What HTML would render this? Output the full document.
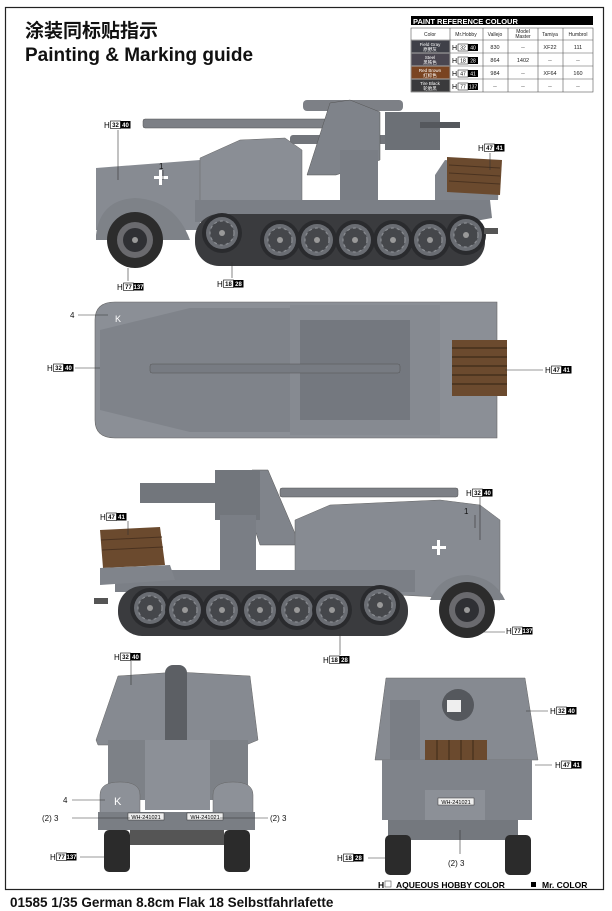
<!DOCTYPE html>
<html><head><meta charset="utf-8"><style>
html,body{margin:0;padding:0;background:#fff}
svg{display:block}
text{font-family:"Liberation Sans","Noto Sans CJK SC",sans-serif}
.t{font-size:8px}
.s{font-size:6px;font-weight:bold;text-anchor:middle}
.w{fill:#fff}
</style></head><body>
<svg width="612" height="911" viewBox="0 0 612 911" xmlns="http://www.w3.org/2000/svg">
<defs>
<g id="wh"><circle r="20" fill="#2a2b2e"/><circle r="16" fill="#6a6d73"/><circle r="12" fill="#45474b" stroke="#8a8d92" stroke-width="1.2" stroke-dasharray="3 3"/><circle r="3" fill="#999"/></g>
<g id="fw"><circle r="28" fill="#2c2c2c"/><circle r="18" fill="#6a6a6e"/><circle r="12" fill="#2f3034"/><circle r="3" fill="#999"/></g>
</defs>
<rect x="5.5" y="7.5" width="598" height="882" fill="#fff" stroke="#222" stroke-width="1.2"/>
<text x="25" y="37" font-size="19" font-weight="bold" fill="#111">涂装同标贴指示</text>
<text x="25" y="61" font-size="19" font-weight="bold" fill="#111">Painting &amp; Marking guide</text>

<!-- paint table -->
<rect x="411" y="16" width="182" height="9" fill="#000"/>
<text x="413" y="24" font-size="7.5" font-weight="bold" fill="#fff">PAINT  REFERENCE COLOUR</text>
<g stroke="#555" stroke-width="0.6" fill="none">
<rect x="411" y="28" width="182" height="64"/>
<line x1="411" y1="40" x2="593" y2="40"/><line x1="411" y1="53" x2="593" y2="53"/><line x1="411" y1="66" x2="593" y2="66"/><line x1="411" y1="79" x2="593" y2="79"/>
<line x1="450" y1="28" x2="450" y2="92"/><line x1="483" y1="28" x2="483" y2="92"/><line x1="508" y1="28" x2="508" y2="92"/><line x1="538" y1="28" x2="538" y2="92"/><line x1="563" y1="28" x2="563" y2="92"/>
</g>
<rect x="411.5" y="40.5" width="38" height="12" fill="#3f4048"/>
<rect x="411.5" y="53.5" width="38" height="12" fill="#4a4650"/>
<rect x="411.5" y="66.5" width="38" height="12" fill="#7a4421"/>
<rect x="411.5" y="79.5" width="38" height="12" fill="#3a3a3c"/>
<g font-size="4.5" fill="#fff" text-anchor="middle">
<text x="430" y="46">Field Gray</text><text x="430" y="51">原野灰</text>
<text x="430" y="59">Steel</text><text x="430" y="64">黑铁色</text>
<text x="430" y="72">Red Brown</text><text x="430" y="77">红棕色</text>
<text x="430" y="85">Tire Black</text><text x="430" y="90">轮胎黑</text>
</g>
<g font-size="5" text-anchor="middle" fill="#222">
<text x="430" y="36">Color</text><text x="466" y="36">Mr.Hobby</text><text x="495" y="36">Vallejo</text><text x="523" y="33">Model</text><text x="523" y="38">Master</text><text x="550" y="36">Tamiya</text><text x="578" y="36">Humbrol</text>
<g font-size="5.5"><text x="495" y="49">830</text><text x="523" y="49">--</text><text x="550" y="49">XF22</text><text x="578" y="49">111</text>
<text x="495" y="62">864</text><text x="523" y="62">1402</text><text x="550" y="62">--</text><text x="578" y="62">--</text>
<text x="495" y="75">984</text><text x="523" y="75">--</text><text x="550" y="75">XF64</text><text x="578" y="75">160</text>
<text x="495" y="88">--</text><text x="523" y="88">--</text><text x="550" y="88">--</text><text x="578" y="88">--</text></g>
</g>
<g font-size="7" fill="#000">
<text x="452" y="50">H</text><rect x="458" y="44" width="10" height="7" fill="#fff" stroke="#000" stroke-width=".5"/><rect x="468" y="44" width="10" height="7"/><text x="463" y="49.5" font-size="5" text-anchor="middle">32</text><text x="473" y="49.5" font-size="5" fill="#fff" text-anchor="middle">40</text>
<text x="452" y="63">H</text><rect x="458" y="57" width="10" height="7" fill="#fff" stroke="#000" stroke-width=".5"/><rect x="468" y="57" width="10" height="7"/><text x="463" y="62.5" font-size="5" text-anchor="middle">18</text><text x="473" y="62.5" font-size="5" fill="#fff" text-anchor="middle">28</text>
<text x="452" y="76">H</text><rect x="458" y="70" width="10" height="7" fill="#fff" stroke="#000" stroke-width=".5"/><rect x="468" y="70" width="10" height="7"/><text x="463" y="75.5" font-size="5" text-anchor="middle">47</text><text x="473" y="75.5" font-size="5" fill="#fff" text-anchor="middle">41</text>
<text x="452" y="89">H</text><rect x="458" y="83" width="10" height="7" fill="#fff" stroke="#000" stroke-width=".5"/><rect x="468" y="83" width="10" height="7"/><text x="463" y="88.5" font-size="5" text-anchor="middle">77</text><text x="473" y="88.5" font-size="5" fill="#fff" text-anchor="middle">137</text>
</g>

<!-- ===== SIDE VIEW 1 ===== -->
<g>
<rect x="143" y="119" width="190" height="9" rx="2" fill="#7d8086" stroke="#555" stroke-width=".5"/>
<rect x="303" y="100" width="100" height="11" rx="4" fill="#7d8086"/>
<rect x="290" y="135" width="110" height="9" rx="3" fill="#72757b"/>
<rect x="385" y="112" width="55" height="38" fill="#6c7076"/>
<rect x="420" y="122" width="40" height="6" fill="#55585d"/>
<polygon points="330,103 350,100 380,112 380,160 336,175 307,175" fill="#7f838a" stroke="#555" stroke-width=".5"/>
<rect x="340" y="150" width="38" height="55" fill="#7a7e85"/>
<polygon points="96,168 200,160 200,230 96,230" fill="#878b92"/>
<polygon points="200,158 240,140 285,138 302,150 302,205 200,210" fill="#8a8e95" stroke="#666" stroke-width=".5"/>
<path d="M96,235 Q100,200 135,198 Q175,200 190,240 L96,240Z" fill="#7e8288"/>
<polygon points="195,200 490,200 492,218 470,222 195,222" fill="#7b7f86"/>
<polygon points="435,175 445,160 500,165 498,200 435,200" fill="#80848b"/>
<polygon points="447,157 502,160 500,195 447,192" fill="#6b4a2e"/>
<g stroke="#4a3220" stroke-width="1"><line x1="449" y1="165" x2="500" y2="168"/><line x1="449" y1="173" x2="500" y2="176"/><line x1="449" y1="181" x2="500" y2="184"/></g>
<rect x="195" y="214" width="290" height="52" rx="24" fill="#3a3b3e"/>
<use href="#wh" x="222" y="233"/>
<use href="#wh" x="280" y="240"/><use href="#wh" x="317" y="240"/><use href="#wh" x="355" y="240"/><use href="#wh" x="393" y="240"/><use href="#wh" x="430" y="240"/><use href="#wh" x="466" y="235"/>
<use href="#fw" x="135" y="240"/>
<g fill="#fff"><rect x="154" y="176" width="14" height="3"/><rect x="159" y="170" width="3" height="15"/></g>
<rect x="484" y="228" width="14" height="6" fill="#555"/>
</g>

<!-- ===== TOP VIEW ===== -->
<g>
<path d="M115,302 L497,302 L497,438 L115,438 Q95,438 95,420 L95,320 Q95,302 115,302Z" fill="#8b8f96" stroke="#666" stroke-width=".6"/>
<path d="M100,330 L190,308 L290,308 L290,432 L190,432 L100,410Z" fill="#7f838a"/>
<rect x="290" y="305" width="150" height="130" fill="#868a91"/>
<rect x="300" y="320" width="110" height="100" fill="#74787f"/>
<rect x="150" y="364" width="250" height="9" rx="2" fill="#777b82" stroke="#555" stroke-width=".5"/>
<rect x="452" y="340" width="55" height="56" fill="#6b4a2e"/>
<g stroke="#3e2a18" stroke-width="1.2"><line x1="452" y1="348" x2="507" y2="348"/><line x1="452" y1="357" x2="507" y2="357"/><line x1="452" y1="366" x2="507" y2="366"/><line x1="452" y1="375" x2="507" y2="375"/><line x1="452" y1="384" x2="507" y2="384"/></g>
<text x="115" y="322" font-size="9" fill="#fff">K</text>
</g>

<!-- ===== SIDE VIEW 2 ===== -->
<g>
<rect x="280" y="488" width="178" height="9" rx="2" fill="#7d8086" stroke="#555" stroke-width=".5"/>
<rect x="140" y="483" width="120" height="20" fill="#72767c"/>
<polygon points="252,470 268,470 300,545 260,545 245,500" fill="#80848b" stroke="#555" stroke-width=".5"/>
<rect x="215" y="470" width="45" height="50" fill="#72767c"/>
<rect x="220" y="515" width="36" height="60" fill="#7a7e85"/>
<polygon points="295,520 330,505 440,500 480,505 500,520 500,600 295,590" fill="#878b92" stroke="#666" stroke-width=".5"/>
<path d="M430,600 Q440,575 468,575 Q495,578 505,600Z" fill="#7e8288"/>
<polygon points="115,570 415,570 415,592 115,592" fill="#7b7f86"/>
<polygon points="100,530 160,527 165,565 103,568" fill="#6b4a2e"/>
<g stroke="#4a3220" stroke-width="1"><line x1="101" y1="540" x2="162" y2="537"/><line x1="102" y1="550" x2="163" y2="547"/></g>
<polygon points="100,568 170,565 175,580 100,585" fill="#80848b"/>
<rect x="118" y="586" width="290" height="50" rx="24" fill="#3a3b3e"/>
<use href="#wh" x="150" y="608"/><use href="#wh" x="185" y="610"/><use href="#wh" x="222" y="610"/><use href="#wh" x="260" y="610"/><use href="#wh" x="297" y="610"/><use href="#wh" x="332" y="610"/><use href="#wh" x="380" y="605"/>
<use href="#fw" x="467" y="610"/>
<g fill="#fff"><rect x="432" y="546" width="14" height="3"/><rect x="437" y="540" width="3" height="15"/></g>
<rect x="94" y="598" width="14" height="6" fill="#555"/>
</g>

<!-- ===== FRONT VIEW ===== -->
<g>
<polygon points="118,676 178,672 250,676 258,740 246,745 98,745 96,740" fill="#868a91" stroke="#666" stroke-width=".5"/>
<rect x="165" y="665" width="22" height="90" rx="8" fill="#5c5f64"/>
<rect x="108" y="740" width="140" height="60" fill="#7d8187"/>
<rect x="145" y="740" width="65" height="70" fill="#8c9097"/>
<path d="M100,820 L100,795 Q100,782 120,782 Q140,782 140,795 L140,820Z" fill="#8d9198" stroke="#666" stroke-width=".5"/>
<path d="M213,820 L213,795 Q213,782 233,782 Q253,782 253,795 L253,820Z" fill="#8d9198" stroke="#666" stroke-width=".5"/>
<rect x="98" y="812" width="157" height="18" fill="#7a7e84"/>
<rect x="128" y="813" width="36" height="7" fill="#eee" stroke="#333" stroke-width=".5"/><text x="146" y="819" font-size="5.5" text-anchor="middle">WH-241021</text>
<rect x="187" y="813" width="36" height="7" fill="#eee" stroke="#333" stroke-width=".5"/><text x="205" y="819" font-size="5.5" text-anchor="middle">WH-241021</text>
<text x="114" y="805" font-size="11" fill="#fff">K</text>
<rect x="104" y="830" width="26" height="42" rx="5" fill="#2b2b2b"/>
<rect x="224" y="830" width="26" height="42" rx="5" fill="#2b2b2b"/>
<rect x="130" y="830" width="94" height="15" fill="#555"/>
</g>

<!-- ===== REAR VIEW ===== -->
<g>
<polygon points="386,678 525,678 538,760 375,760" fill="#868a91" stroke="#666" stroke-width=".5"/>
<circle cx="458" cy="705" r="16" fill="#55585d"/>
<rect x="447" y="700" width="14" height="12" fill="#eee"/>
<rect x="390" y="700" width="30" height="60" fill="#7a7e85"/>
<rect x="425" y="740" width="62" height="46" fill="#6b4a2e"/>
<g stroke="#3e2a18" stroke-width="1"><line x1="437" y1="740" x2="437" y2="786"/><line x1="449" y1="740" x2="449" y2="786"/><line x1="461" y1="740" x2="461" y2="786"/><line x1="473" y1="740" x2="473" y2="786"/></g>
<rect x="382" y="760" width="150" height="60" fill="#7f838a"/>
<rect x="425" y="790" width="60" height="30" fill="#8c9097"/>
<rect x="438" y="798" width="36" height="7" fill="#eee" stroke="#333" stroke-width=".5"/><text x="456" y="804" font-size="5.5" text-anchor="middle">WH-241021</text>
<rect x="388" y="820" width="130" height="20" fill="#74787e"/>
<rect x="385" y="835" width="26" height="40" rx="5" fill="#2b2b2b"/>
<rect x="505" y="835" width="26" height="40" rx="5" fill="#2b2b2b"/>
</g>

<!-- callout lines -->
<g stroke="#333" stroke-width=".6">
<line x1="118" y1="130" x2="118" y2="180"/><line x1="163" y1="170" x2="163" y2="180"/>
<line x1="490" y1="153" x2="490" y2="170"/>
<line x1="128" y1="268" x2="128" y2="281"/><line x1="232" y1="262" x2="232" y2="278"/>
<line x1="78" y1="315" x2="108" y2="315"/><line x1="75" y1="368" x2="100" y2="368"/><line x1="505" y1="370" x2="543" y2="370"/>
<line x1="128" y1="521" x2="128" y2="535"/><line x1="480" y1="497" x2="480" y2="540"/><line x1="475" y1="515" x2="475" y2="528"/>
<line x1="480" y1="632" x2="505" y2="632"/><line x1="340" y1="634" x2="340" y2="655"/>
<line x1="131" y1="661" x2="131" y2="685"/><line x1="72" y1="800" x2="105" y2="800"/><line x1="72" y1="818" x2="130" y2="818"/><line x1="220" y1="818" x2="268" y2="818"/><line x1="80" y1="857" x2="104" y2="857"/>
<line x1="526" y1="711" x2="548" y2="711"/><line x1="535" y1="765" x2="552" y2="765"/><line x1="368" y1="858" x2="385" y2="858"/><line x1="460" y1="830" x2="460" y2="854"/>
</g>
<g font-size="8" fill="#111">
<text x="159" y="169">1</text><text x="464" y="514">1</text>
<text x="70" y="318">4</text><text x="63" y="803">4</text>
<text x="42" y="821">(2) 3</text><text x="270" y="821">(2) 3</text><text x="448" y="866">(2) 3</text>
</g>

<!-- H tags -->
<g>
<g transform="translate(104,128)"><text class="t">H</text><rect x="6.5" y="-7" width="10" height="7.5" fill="#fff" stroke="#000" stroke-width=".6"/><text x="11.5" y="-1.2" class="s">32</text><rect x="16.5" y="-7" width="10" height="7.5"/><text x="21.5" y="-1.2" class="s w">40</text></g>
<g transform="translate(478,151)"><text class="t">H</text><rect x="6.5" y="-7" width="10" height="7.5" fill="#fff" stroke="#000" stroke-width=".6"/><text x="11.5" y="-1.2" class="s">47</text><rect x="16.5" y="-7" width="10" height="7.5"/><text x="21.5" y="-1.2" class="s w">41</text></g>
<g transform="translate(117,290)"><text class="t">H</text><rect x="6.5" y="-7" width="10" height="7.5" fill="#fff" stroke="#000" stroke-width=".6"/><text x="11.5" y="-1.2" class="s">77</text><rect x="16.5" y="-7" width="10" height="7.5"/><text x="21.5" y="-1.2" class="s w">137</text></g>
<g transform="translate(217,287)"><text class="t">H</text><rect x="6.5" y="-7" width="10" height="7.5" fill="#fff" stroke="#000" stroke-width=".6"/><text x="11.5" y="-1.2" class="s">18</text><rect x="16.5" y="-7" width="10" height="7.5"/><text x="21.5" y="-1.2" class="s w">28</text></g>
<g transform="translate(47,371)"><text class="t">H</text><rect x="6.5" y="-7" width="10" height="7.5" fill="#fff" stroke="#000" stroke-width=".6"/><text x="11.5" y="-1.2" class="s">32</text><rect x="16.5" y="-7" width="10" height="7.5"/><text x="21.5" y="-1.2" class="s w">40</text></g>
<g transform="translate(545,373)"><text class="t">H</text><rect x="6.5" y="-7" width="10" height="7.5" fill="#fff" stroke="#000" stroke-width=".6"/><text x="11.5" y="-1.2" class="s">47</text><rect x="16.5" y="-7" width="10" height="7.5"/><text x="21.5" y="-1.2" class="s w">41</text></g>
<g transform="translate(100,520)"><text class="t">H</text><rect x="6.5" y="-7" width="10" height="7.5" fill="#fff" stroke="#000" stroke-width=".6"/><text x="11.5" y="-1.2" class="s">47</text><rect x="16.5" y="-7" width="10" height="7.5"/><text x="21.5" y="-1.2" class="s w">41</text></g>
<g transform="translate(466,496)"><text class="t">H</text><rect x="6.5" y="-7" width="10" height="7.5" fill="#fff" stroke="#000" stroke-width=".6"/><text x="11.5" y="-1.2" class="s">32</text><rect x="16.5" y="-7" width="10" height="7.5"/><text x="21.5" y="-1.2" class="s w">40</text></g>
<g transform="translate(506,634)"><text class="t">H</text><rect x="6.5" y="-7" width="10" height="7.5" fill="#fff" stroke="#000" stroke-width=".6"/><text x="11.5" y="-1.2" class="s">77</text><rect x="16.5" y="-7" width="10" height="7.5"/><text x="21.5" y="-1.2" class="s w">137</text></g>
<g transform="translate(323,663)"><text class="t">H</text><rect x="6.5" y="-7" width="10" height="7.5" fill="#fff" stroke="#000" stroke-width=".6"/><text x="11.5" y="-1.2" class="s">18</text><rect x="16.5" y="-7" width="10" height="7.5"/><text x="21.5" y="-1.2" class="s w">28</text></g>
<g transform="translate(114,660)"><text class="t">H</text><rect x="6.5" y="-7" width="10" height="7.5" fill="#fff" stroke="#000" stroke-width=".6"/><text x="11.5" y="-1.2" class="s">32</text><rect x="16.5" y="-7" width="10" height="7.5"/><text x="21.5" y="-1.2" class="s w">40</text></g>
<g transform="translate(50,860)"><text class="t">H</text><rect x="6.5" y="-7" width="10" height="7.5" fill="#fff" stroke="#000" stroke-width=".6"/><text x="11.5" y="-1.2" class="s">77</text><rect x="16.5" y="-7" width="10" height="7.5"/><text x="21.5" y="-1.2" class="s w">137</text></g>
<g transform="translate(550,714)"><text class="t">H</text><rect x="6.5" y="-7" width="10" height="7.5" fill="#fff" stroke="#000" stroke-width=".6"/><text x="11.5" y="-1.2" class="s">32</text><rect x="16.5" y="-7" width="10" height="7.5"/><text x="21.5" y="-1.2" class="s w">40</text></g>
<g transform="translate(555,768)"><text class="t">H</text><rect x="6.5" y="-7" width="10" height="7.5" fill="#fff" stroke="#000" stroke-width=".6"/><text x="11.5" y="-1.2" class="s">47</text><rect x="16.5" y="-7" width="10" height="7.5"/><text x="21.5" y="-1.2" class="s w">41</text></g>
<g transform="translate(337,861)"><text class="t">H</text><rect x="6.5" y="-7" width="10" height="7.5" fill="#fff" stroke="#000" stroke-width=".6"/><text x="11.5" y="-1.2" class="s">18</text><rect x="16.5" y="-7" width="10" height="7.5"/><text x="21.5" y="-1.2" class="s w">28</text></g>
</g>

<!-- legend -->
<text x="378" y="888" font-size="8.5" font-weight="bold">H</text>
<rect x="385" y="881" width="6" height="6" fill="#fff" stroke="#555" stroke-width=".6"/>
<text x="396" y="888" font-size="8.5" font-weight="bold">AQUEOUS HOBBY COLOR</text>
<rect x="531" y="882" width="5" height="5" fill="#000"/>
<text x="542" y="888" font-size="8.5" font-weight="bold">Mr. COLOR</text>

<text x="10" y="907" font-size="13.5" font-weight="bold" fill="#111">01585   1/35   German 8.8cm Flak 18 Selbstfahrlafette</text>
</svg>
</body></html>
